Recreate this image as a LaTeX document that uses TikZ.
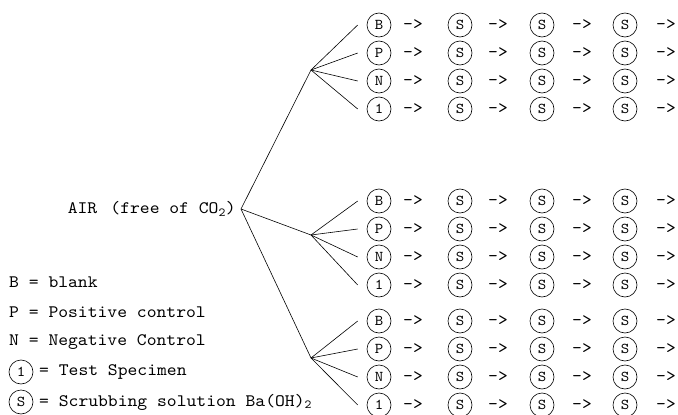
\documentclass[tikz,border=0pt]{standalone}
\usepackage{fontspec}
\setmonofont{lmmono10-regular.otf}[FakeStretch=1.07]
\usetikzlibrary{positioning, calc}

\tikzset{
    spec/.style={circle, draw, line width=0.6pt, minimum size=24pt, inner sep=0pt,
        font=\ttfamily\fontsize{15}{15}\selectfont},
    lbl/.style={inner sep=0pt, font=\ttfamily\fontsize{17.5}{18}\selectfont},
    branch/.style={line width=0.6pt}
}

\begin{document}
\begin{tikzpicture}[x=1pt, y=-1pt]
    \useasboundingbox (0,0) rectangle (678,415);

    % Air supply
    \node[lbl, anchor=east] (air) at (236,209) {AIR\hspace{0.75em}(free of CO\textsubscript{2})};
    \coordinate (root) at (241,209);

    % Three groups of chambers
    \foreach \g/\jy/\ry in {a/70/25, b/235/201, c/358/321} {
        \coordinate (j\g) at (311,\jy);
        \draw[branch] (root) -- (j\g);
        \foreach \lab [count=\i from 0] in {B,P,N,1} {
            \node[spec] (\g\i-0) at (379,\ry+28*\i) {\lab};
            \draw[branch] (j\g) -- ([xshift=-9pt]\g\i-0.west);
            % scrubbers in series
            \foreach \c/\x in {1/460, 2/542, 3/625} {
                \node[spec] (\g\i-\c) at (\x,\ry+28*\i) {S};
            }
            \foreach \k/\x in {0/413, 1/498, 2/582, 3/666} {
                \node[lbl] (\g\i-arr\k) at (\x,\ry+28*\i) {->};
            }
        }
    }

    % Legend
    \node[lbl, anchor=west] (keyB) at (9,282) {B = blank};
    \node[lbl, anchor=west] (keyP) at (9,312) {P = Positive control};
    \node[lbl, anchor=west] (keyN) at (9,342) {N = Negative Control};
    \node[spec] (key1) at (21,372) {1};
    \node[lbl, anchor=west] (key1t) at (39,372) {= Test Specimen};
    \node[spec] (keyS) at (21,402) {S};
    \node[lbl, anchor=west] (keySt) at (39,402) {= Scrubbing solution Ba(OH)\textsubscript{2}};
\end{tikzpicture}
\end{document}
